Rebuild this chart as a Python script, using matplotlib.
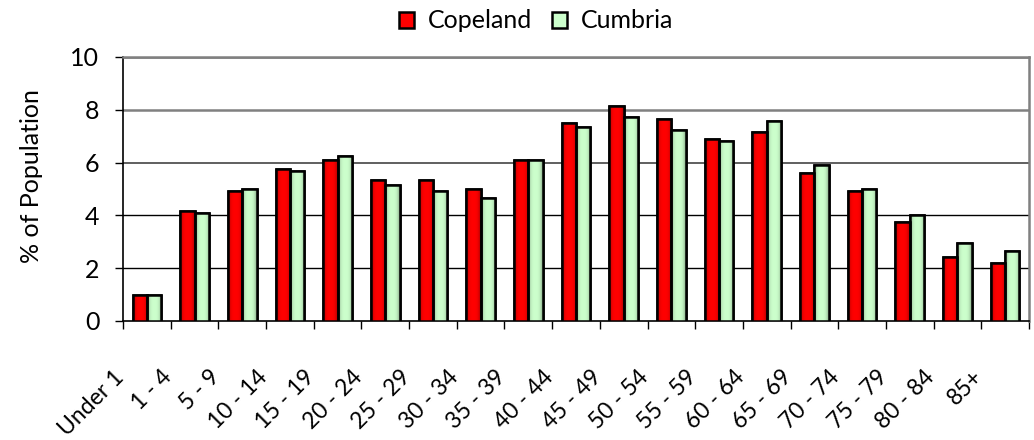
import numpy as np
import matplotlib
matplotlib.use("Agg")
import matplotlib.pyplot as plt
import matplotlib.transforms as mtransforms
from matplotlib.colors import to_rgb

plt.rcParams['font.family'] = ['Lato', 'DejaVu Sans']

# Age bands and share of population (%) in each band
age_bands = ["Under 1", "1 - 4", "5 - 9", "10 - 14", "15 - 19", "20 - 24", "25 - 29",
             "30 - 34", "35 - 39", "40 - 44", "45 - 49", "50 - 54", "55 - 59",
             "60 - 64", "65 - 69", "70 - 74", "75 - 79", "80 - 84", "85+"]
copeland = [1.0, 4.16, 4.92, 5.76, 6.08, 5.33, 5.33, 5.0, 6.08, 7.5, 8.16, 7.65,
            6.91, 7.16, 5.59, 4.92, 3.76, 2.43, 2.18]
cumbria = [1.0, 4.09, 5.0, 5.67, 6.25, 5.16, 4.92, 4.67, 6.08, 7.33, 7.74, 7.25,
           6.83, 7.59, 5.91, 5.0, 4.02, 2.94, 2.67]

fig = plt.figure(figsize=(10.34, 4.4), dpi=100)
ax = fig.add_axes([123 / 1034, 1 - 321 / 440, (1029 - 123) / 1034, (321 - 57) / 440])

x = np.arange(len(age_bands))
w = 0.3


def shaded_bars(xpos, vals, color, label):
    # flat bars for the legend, a side-to-side shading on top, then the outlines
    bars = ax.bar(xpos, vals, w, color=color, edgecolor='black', linewidth=1.8,
                  label=label, zorder=3)
    t = np.linspace(0, 1, 40)
    shade = 1 - 0.35 * np.abs(2 * t - 1) ** 3
    grad = np.array(to_rgb(color))[None, None, :] * shade[None, :, None]
    for b in bars:
        x0, y0 = b.get_x(), b.get_y()
        im = ax.imshow(grad, extent=[x0, x0 + b.get_width(), y0, y0 + b.get_height()],
                       aspect='auto', interpolation='bilinear', zorder=3.5)
        im.set_clip_path(b)
    ax.bar(xpos, vals, w, facecolor='none', edgecolor='black', linewidth=1.8, zorder=4)
    return bars


shaded_bars(x - w / 2, copeland, '#ff0000', 'Copeland')
shaded_bars(x + w / 2, cumbria, '#ccffcc', 'Cumbria')

ax.set_xlim(-0.5, len(age_bands) - 0.5)
ax.set_ylim(0, 10)
ax.set_yticks([0, 2, 4, 6, 8, 10])
ax.tick_params(axis='y', labelsize=18, length=6, width=1, pad=11)

# gridlines fade from grey at the top to black near the base
for val, col, lw in [(2, 'black', 1.0), (4, 'black', 1.0), (6, '#444444', 1.2),
                     (8, '#808080', 1.8), (10, '#808080', 1.8)]:
    ax.axhline(val, color=col, lw=lw, zorder=1)

# ticks at the category boundaries, labels at the centres
ax.set_xticks(np.arange(-0.5, len(age_bands)))
ax.set_xticklabels([])
ax.tick_params(axis='x', length=6, width=1, direction='out')
ax.set_xticks(x, minor=True)
ax.set_xticklabels(age_bands, minor=True, rotation=45, ha='right', va='center',
                   rotation_mode='anchor', fontsize=16.5)
ax.tick_params(axis='x', which='minor', length=0, pad=38)
shift = mtransforms.ScaledTranslation(-26 / 100, 0, fig.dpi_scale_trans)
for lbl in ax.get_xticklabels(minor=True):
    lbl.set_transform(lbl.get_transform() + shift)

for s in ['top', 'right']:
    ax.spines[s].set_color('#808080')
    ax.spines[s].set_linewidth(1.8)
ax.spines['left'].set_linewidth(1.2)
ax.spines['bottom'].set_linewidth(1.2)

fig.text(32 / 1034, 1 - 176 / 440, '% of Population', rotation=90, ha='center',
         va='center', fontsize=18)

fig.legend(loc='center', bbox_to_anchor=(536 / 1034, 1 - 21 / 440), ncol=2,
           frameon=False, fontsize=18, handlelength=0.6, handleheight=0.6,
           handletextpad=0.55, columnspacing=0.8, borderpad=0)

fig.savefig('out.png', dpi=100)
